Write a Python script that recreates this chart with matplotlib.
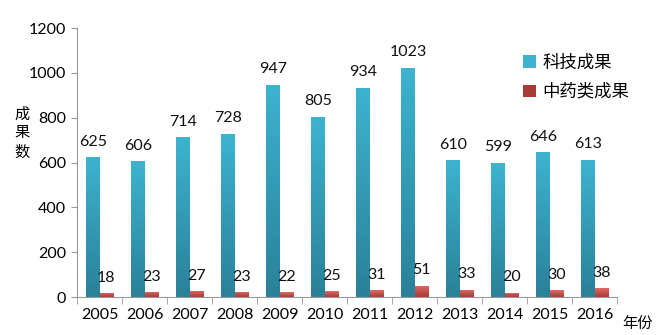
import numpy as np
import matplotlib
matplotlib.use("Agg")
from matplotlib import pyplot as plt
from matplotlib.patches import Patch
from matplotlib.colors import LinearSegmentedColormap

plt.rcParams['font.family'] = ['Lato', 'Noto Sans CJK SC', 'DejaVu Sans']

years = ['2005', '2006', '2007', '2008', '2009', '2010',
         '2011', '2012', '2013', '2014', '2015', '2016']
keji = [625, 606, 714, 728, 947, 805, 934, 1023, 610, 599, 646, 613]
zhongyao = [18, 23, 27, 23, 22, 25, 31, 51, 33, 20, 30, 38]
series_names = ['科技成果', '中药类成果']
yticks = [0, 200, 400, 600, 800, 1000, 1200]

blue_top, blue_bottom = '#3db3cf', '#2a8199'
red_top, red_bottom = '#e06a66', '#a83a37'

fig = plt.figure(figsize=(6.71, 3.35), dpi=100)
ax = fig.add_axes([0.1148, 0.1134, 0.805, 0.803])

x = np.arange(len(years))
w = 0.3


def grad_bars(xs, heights, top, bottom, width):
    # vertical gradient filled into each bar rectangle
    cmap = LinearSegmentedColormap.from_list('g', [bottom, top])
    grad = np.linspace(0, 1, 64).reshape(-1, 1)
    bars = ax.bar(xs, heights, width, color='none', edgecolor='none')
    for b in bars:
        x0, y0 = b.get_x(), b.get_y()
        im = ax.imshow(grad, cmap=cmap, origin='lower', aspect='auto',
                       extent=[x0, x0 + b.get_width(), y0, y0 + b.get_height()],
                       zorder=2)
        im.set_clip_path(b)
    return bars


b1 = grad_bars(x - w / 2, keji, blue_top, blue_bottom, w)
b2 = grad_bars(x + w / 2, zhongyao, red_top, red_bottom, w)

for bars, vals in ((b1, keji), (b2, zhongyao)):
    for b, v in zip(bars, vals):
        ax.annotate(str(v), (b.get_x() + b.get_width() / 2, v),
                    xytext=(0, 6), textcoords='offset points',
                    ha='center', va='bottom', fontsize=11.5, color='#111111')

ax.set_xlim(-0.5, len(years) - 0.5)
ax.set_ylim(0, 1200)
ax.set_yticks(yticks)
ax.tick_params(axis='y', labelsize=11.5, length=4, color='#999999', pad=4)

# year labels centered, ticks on category boundaries
ax.set_xticks(x)
ax.set_xticklabels(years, fontsize=11.5)
ax.set_xticks(np.arange(len(years) + 1) - 0.5, minor=True)
ax.tick_params(axis='x', which='major', length=0, pad=8)
ax.tick_params(axis='x', which='minor', length=5, color='#999999')

for s in ('top', 'right'):
    ax.spines[s].set_visible(False)
for s in ('left', 'bottom'):
    ax.spines[s].set_color('#999999')

ax.text(-0.102, 0.61, '成\n果\n数', transform=ax.transAxes, ha='center', va='center',
        fontsize=11, linespacing=1.15, family=['Noto Sans CJK SC'])
fig.text(0.95, 0.035, '年份', ha='center', va='center', fontsize=11,
         family=['Noto Sans CJK SC'])

handles = [Patch(facecolor=blue_top, edgecolor='none'),
           Patch(facecolor=red_bottom, edgecolor='none')]
leg = fig.legend(handles, series_names, loc='upper left', bbox_to_anchor=(0.78, 0.84),
                 frameon=False, handlelength=0.7, handleheight=0.7,
                 handletextpad=0.4, labelspacing=0.65, borderaxespad=0, borderpad=0,
                 prop={'family': ['Noto Sans CJK SC'], 'size': 12.5})

fig.savefig('out.png', dpi=100)
